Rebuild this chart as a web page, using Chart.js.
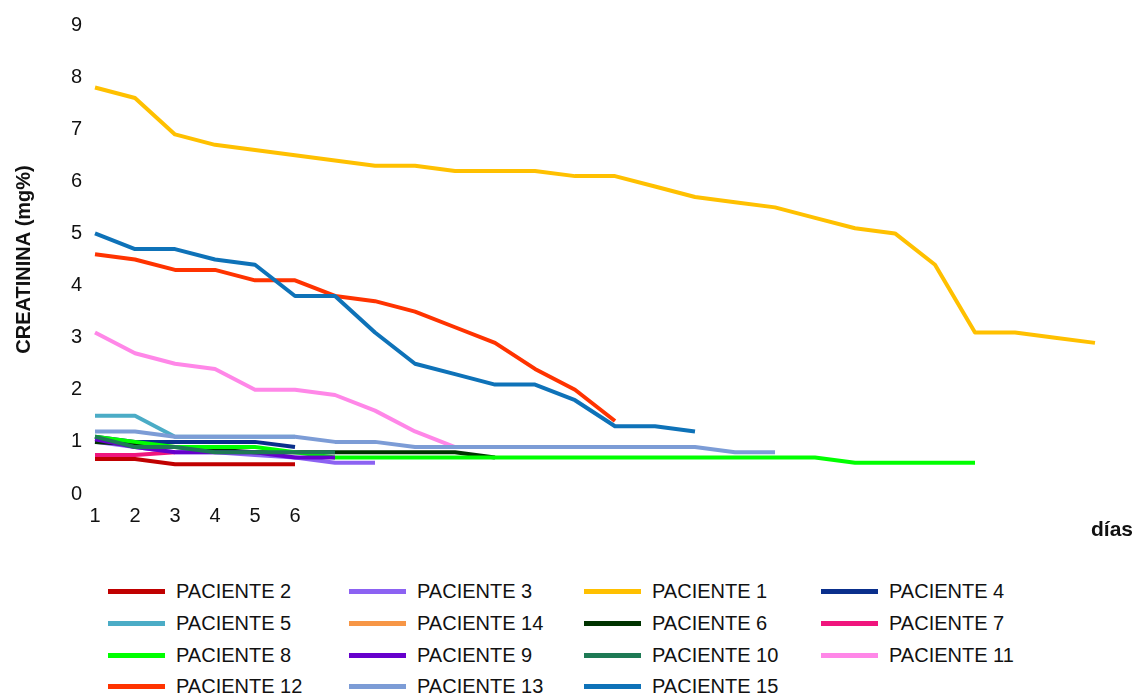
<!DOCTYPE html>
<html>
<head>
<meta charset="utf-8">
<script src="https://cdn.jsdelivr.net/npm/chart.js@4.4.1/dist/chart.umd.min.js"></script>
<style>
  html, body { margin: 0; padding: 0; background: #fff; }
  body { width: 1143px; height: 695px; position: relative; overflow: hidden; font-family: "Liberation Sans", Arial, sans-serif; color: #111; }
  #wrap { position: absolute; left: 0; top: 0; width: 1143px; height: 560px; }
  #dias { position: absolute; left: 1091px; top: 517px; font-weight: bold; font-size: 21px; }
  #legend { position: absolute; left: 108px; top: 576px; display: grid; grid-template-columns: 241px 235px 237px 230px; grid-auto-rows: 31.7px; }
  .item { display: flex; align-items: center; font-size: 20px; white-space: nowrap; }
  .sw { width: 57px; height: 5px; margin-right: 11px; }
</style>
</head>
<body>
<div id="wrap"><canvas id="chart"></canvas></div>
<div id="dias">días</div>
<div id="legend"></div>
<script>
// días (eje x): solo se rotulan 1..6
const dias = ['1', '2', '3', '4', '5', '6', '', '', '', '', '', '', '', '', '', '', '', '', '', '', '', '', '', '', '', ''];

// creatinina (mg%) por paciente
const paciente2 = [0.67, 0.67, 0.57, 0.57, 0.57, 0.57];
const paciente3 = [1.0, 0.9, 0.8, 0.8, 0.75, 0.7, 0.6, 0.6];
const paciente1 = [7.8, 7.6, 6.9, 6.7, 6.6, 6.5, 6.4, 6.3, 6.3, 6.2, 6.2, 6.2, 6.1, 6.1, 5.9, 5.7, 5.6, 5.5, 5.3, 5.1, 5.0, 4.4, 3.1, 3.1, 3.0, 2.9];
const paciente4 = [1.1, 1.0, 1.0, 1.0, 1.0, 0.9];
const paciente5 = [1.5, 1.5, 1.1, 1.1, 1.1, 1.1];
const paciente14 = [];
const paciente6 = [1.0, 0.95, 0.9, 0.85, 0.8, 0.8, 0.8, 0.8, 0.8, 0.8, 0.7];
const paciente7 = [0.75, 0.75, 0.8];
const paciente8 = [1.1, 1.0, 0.9, 0.9, 0.9, 0.8, 0.7, 0.7, 0.7, 0.7, 0.7, 0.7, 0.7, 0.7, 0.7, 0.7, 0.7, 0.7, 0.7, 0.6, 0.6, 0.6, 0.6];
const paciente9 = [1.05, 0.9, 0.8, 0.8, 0.8, 0.7, 0.7];
const paciente10 = [1.1, 0.9, 0.9, 0.8, 0.8, 0.8, 0.8];
const paciente11 = [3.1, 2.7, 2.5, 2.4, 2.0, 2.0, 1.9, 1.6, 1.2, 0.9];
const paciente12 = [4.6, 4.5, 4.3, 4.3, 4.1, 4.1, 3.8, 3.7, 3.5, 3.2, 2.9, 2.4, 2.0, 1.4];
const paciente13 = [1.2, 1.2, 1.1, 1.1, 1.1, 1.1, 1.0, 1.0, 0.9, 0.9, 0.9, 0.9, 0.9, 0.9, 0.9, 0.9, 0.8, 0.8];
const paciente15 = [5.0, 4.7, 4.7, 4.5, 4.4, 3.8, 3.8, 3.1, 2.5, 2.3, 2.1, 2.1, 1.8, 1.3, 1.3, 1.2];

// series en el orden de la leyenda
const series = [
  { label: 'PACIENTE 2', data: paciente2, color: '#C00000' },
  { label: 'PACIENTE 3', data: paciente3, color: '#8C62F2' },
  { label: 'PACIENTE 1', data: paciente1, color: '#FFC000' },
  { label: 'PACIENTE 4', data: paciente4, color: '#0A2F8C' },
  { label: 'PACIENTE 5', data: paciente5, color: '#4BACC6' },
  { label: 'PACIENTE 14', data: paciente14, color: '#F79646' },
  { label: 'PACIENTE 6', data: paciente6, color: '#003300' },
  { label: 'PACIENTE 7', data: paciente7, color: '#F0157D' },
  { label: 'PACIENTE 8', data: paciente8, color: '#00FF00' },
  { label: 'PACIENTE 9', data: paciente9, color: '#6600CC' },
  { label: 'PACIENTE 10', data: paciente10, color: '#1E7A55' },
  { label: 'PACIENTE 11', data: paciente11, color: '#FF87E8' },
  { label: 'PACIENTE 12', data: paciente12, color: '#FF3300' },
  { label: 'PACIENTE 13', data: paciente13, color: '#7C9CD6' },
  { label: 'PACIENTE 15', data: paciente15, color: '#0E72B8' }
];

const fuente = { family: '"Liberation Sans", Arial, sans-serif', size: 20 };

var ctx = document.getElementById('chart').getContext('2d');
var chart = new Chart(ctx, {
  type: 'line',
  data: {
    labels: dias,
    datasets: series.map((s, i) => ({
      label: s.label,
      data: s.data,
      borderColor: s.color,
      backgroundColor: s.color,
      borderWidth: 4,
      borderJoinStyle: 'round',
      pointRadius: 0,
      tension: 0,
      fill: false,
      // las series posteriores se dibujan encima (como en Excel)
      order: series.length - i
    }))
  },
  options: {
    responsive: true,
    maintainAspectRatio: false,
    animation: false,
    layout: { padding: { left: 0, right: 48, top: 23, bottom: 0 } },
    plugins: {
      legend: { display: false },
      tooltip: { enabled: false }
    },
    scales: {
      x: {
        offset: false,
        grid: { display: false, drawTicks: false },
        border: { display: false },
        ticks: { autoSkip: false, maxRotation: 0, padding: 10, color: '#111', font: fuente },
        afterFit: (scale) => { scale.height = 66; }
      },
      y: {
        min: 0,
        max: 9,
        grid: { display: false, drawTicks: false },
        border: { display: false },
        ticks: { stepSize: 1, padding: 13, color: '#111', font: fuente },
        title: {
          display: true,
          text: 'CREATININA (mg%)',
          color: '#111',
          font: { family: '"Liberation Sans", Arial, sans-serif', size: 20, weight: 'bold' },
          padding: { top: 12, bottom: 0 }
        },
        afterFit: (scale) => { scale.width = 95; }
      }
    }
  }
});

// leyenda en cuatro columnas
var leyenda = document.getElementById('legend');
series.forEach(s => {
  var item = document.createElement('div');
  item.className = 'item';
  var sw = document.createElement('span');
  sw.className = 'sw';
  sw.style.background = s.color;
  item.appendChild(sw);
  item.appendChild(document.createTextNode(s.label));
  leyenda.appendChild(item);
});
</script>
</body>
</html>
